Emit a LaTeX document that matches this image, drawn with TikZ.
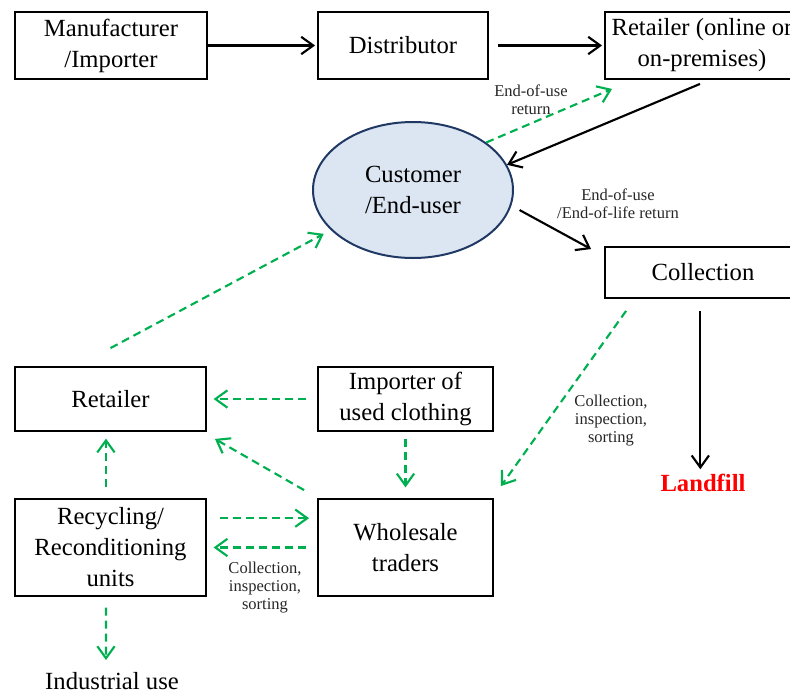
\documentclass[tikz,border=0pt]{standalone}
\usepackage{fontspec}
\setmainfont{Liberation Serif}
\usetikzlibrary{shapes.geometric,arrows.meta}
\definecolor{flowgreen}{RGB}{0,176,80}
\definecolor{custfill}{RGB}{220,230,242}
\definecolor{custline}{RGB}{31,56,100}
\begin{document}
\begin{tikzpicture}[x=0.75pt,y=-0.75pt,
    box/.style={draw,line width=1.4pt,align=center,inner sep=0pt,font=\fontsize{18.5}{23.25}\selectfont},
    lab/.style={align=center,inner sep=0pt,font=\fontsize{12.4}{13.5}\selectfont,text=black!85},
    flow/.style={-{Straight Barb[length=9pt,width=13pt]},line width=1.6pt},
    greenflow/.style={flow,flowgreen,dash pattern=on 6pt off 3.75pt}]
    % 画布大小
    \useasboundingbox (0,0) rectangle (790,693);
    \clip (0,0) rectangle (790,693);

    % 正向链条
    \node[box,minimum width=144pt,minimum height=50.25pt] (mfr) at (111,45.5) {Manufacturer\\/Importer};
    \node[box,minimum width=127.5pt,minimum height=50.25pt] (dist) at (403,45.5) {Distributor};
    \node[box,minimum width=145.5pt,minimum height=50.25pt] (retail) at (702,45.5) {Retailer (online or\\on-premises)};

    % 顾客
    \node[ellipse,draw=custline,fill=custfill,line width=1.5pt,minimum width=150pt,minimum height=102pt,
          inner sep=0pt,align=center,font=\fontsize{18.5}{23.25}\selectfont] (cust) at (413,190) {Customer\\/End-user};

    % 回收与填埋
    \node[box,minimum width=147pt,minimum height=38.25pt] (coll) at (703,272.5) {Collection};
    \node[inner sep=0pt,text=red,font=\fontsize{18.5}{23.25}\selectfont\bfseries] (land) at (703,483) {Landfill};

    % 下方的格子
    \node[box,minimum width=143.25pt,minimum height=48pt] (retl) at (110.5,399) {Retailer};
    \node[box,minimum width=131.25pt,minimum height=48pt] (imp) at (405.5,399) {Importer of\\used clothing};
    \node[box,minimum width=143.25pt,minimum height=72.75pt] (recy) at (110.5,547.5) {Recycling/\\Reconditioning\\units};
    \node[box,minimum width=131.25pt,minimum height=72.75pt] (whole) at (405.5,547.5) {Wholesale\\traders};
    \node[inner sep=0pt,font=\fontsize{18.5}{23.25}\selectfont] (indus) at (112,681) {Industrial use};

    % 实线箭头
    \draw[flow,shorten >=1.5pt] (mfr.east) -- (dist.west);
    \draw[flow,shorten <=7pt,shorten >=1.5pt] (dist.east) -- (retail.west);
    \draw[flow] ([shift={(-1.5pt,-3pt)}]retail.south) -- (cust.15);
    \draw[flow,shorten <=7pt] (cust.-9) -- ([shift={(-9.75pt,-2.25pt)}]coll.north west);
    \draw[flow,shorten <=9pt,shorten >=3.5pt] ([xshift=-2pt]coll.south) -- ([xshift=-2pt]land.north);

    % 绿色虚线箭头
    \draw[greenflow] (cust.33) -- ([shift={(6pt,-6.75pt)}]retail.south west);
    \draw[greenflow] ([shift={(16.5pt,-9pt)}]coll.south west) -- ([shift={(5.25pt,9pt)}]whole.north east);
    \draw[greenflow,shorten >=6pt] ([yshift=13.5pt]retl.north) -- (cust.206);
    \draw[greenflow,shorten <=8pt,shorten >=5pt] (imp.west) -- (retl.east);
    \draw[greenflow,shorten <=5pt,shorten >=8pt] (imp.south) -- (whole.north);
    \draw[greenflow] ([shift={(-9.75pt,6pt)}]whole.north west) -- ([shift={(6pt,-5.25pt)}]retl.south east);
    \draw[greenflow,shorten <=10pt,shorten >=6pt] ([yshift=22pt]recy.east) -- ([yshift=22pt]whole.west);
    \draw[greenflow,shorten <=8pt,shorten >=5pt] (whole.west) -- (recy.east);
    \draw[greenflow,shorten <=8pt,shorten >=5pt] ([xshift=-3.4pt]recy.north) -- ([xshift=-3.4pt]retl.south);
    \draw[greenflow,shorten <=8pt,shorten >=9pt] ([xshift=-3.4pt]recy.south) -- ([xshift=-4.5pt]indus.north);

    % 小字标注
    \node[lab] (lret) at (531,100) {End-of-use\\return};
    \node[lab] (leol) at (618,204) {End-of-use\\/End-of-life return};
    \node[lab] (lsort) at (611,421) {Collection,\\inspection,\\sorting};
    \node[lab] (lsortb) at (265,588) {Collection,\\inspection,\\sorting};
\end{tikzpicture}
\end{document}
